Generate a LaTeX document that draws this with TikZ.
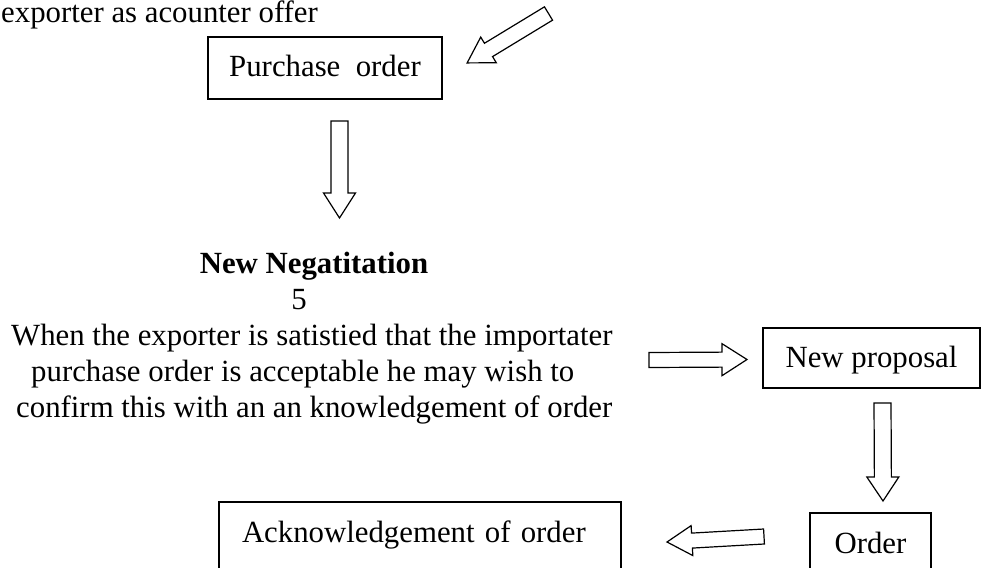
\documentclass[tikz,border=0pt]{standalone}
\usepackage{fontspec}
\setmainfont{Liberation Serif}
\usetikzlibrary{calc}
\tikzset{
  txt/.style={inner sep=0pt, font=\fontsize{30.8}{36}\selectfont},
  box/.style={draw, line width=1.2pt, font=\fontsize{30.8}{36}\selectfont,
    inner sep=0pt, text height=22pt, text depth=4pt},
  barrowsty/.style={draw, line width=1.2pt, fill=white, line join=miter},
}
\newcommand\blockarrow[5]{%
  \path let \p1=(#1), \p2=(#2),
    \n1={atan2(\y2-\y1,\x2-\x1)}, \n2={veclen(\x2-\x1,\y2-\y1)} in
    \pgfextra{\xdef\baX{\x1}\xdef\baY{\y1}\xdef\baA{\n1}\xdef\baL{\n2}};
  \draw[barrowsty, shift={(\baX,\baY)}, rotate=\baA]
    (0,#3) -- (\baL-#5,#3) -- (\baL-#5,#4) -- (\baL,0) -- (\baL-#5,-#4)
    -- (\baL-#5,-#3) -- (0,-#3) -- cycle;
}
\begin{document}
\begin{tikzpicture}[x=1pt,y=1pt]
\useasboundingbox (0,0) rectangle (981,-567);
% texts
\node[txt, anchor=base west] (top) at (1,-23) {exporter as acounter offer};
\node[txt, font=\fontsize{30.8}{36}\selectfont\bfseries, anchor=base] (nn) at (314,-273) {New Negatitation};
\node[txt, anchor=base] (five) at (299,-309) {5};
\node[txt, anchor=base west] (l1) at (11,-345) {When the exporter is satistied that the importater};
\node[txt, anchor=base west] (l2) at (31,-381) {purchase order is acceptable he may wish to};
\node[txt, anchor=base west] (l3) at (16,-417) {confirm this with an an knowledgement of order};
% boxes
\node[box, minimum width=234pt, minimum height=62pt] (po) at (325,-68) {Purchase\ \ order};
\node[box, minimum width=217pt, minimum height=60pt] (np) at (871.5,-358) {New proposal};
\node[box, minimum width=121pt, minimum height=62pt] (ord) at (870.5,-544) {Order};
\node[box, text depth=10pt, minimum height=68pt, text width=356pt, inner xsep=23pt, align=left] (ack) at (420,-536) {Acknowledgement of order};
% arrows
\coordinate (a1s) at (548.5,-13.5); \coordinate (a1e) at (467,-63);
\coordinate (a2s) at (339.5,-121);  \coordinate (a2e) at (339.5,-218);
\coordinate (a3s) at (649,-360);    \coordinate (a3e) at (747,-359.5);
\coordinate (a4s) at (882.5,-403);  \coordinate (a4e) at (883,-501);
\coordinate (a5s) at (764,-536.5);  \coordinate (a5e) at (667,-542);
\blockarrow{a1s}{a1e}{7.8}{15}{25}
\blockarrow{a2s}{a2e}{8.5}{16}{25}
\blockarrow{a3s}{a3e}{7.5}{16}{25}
\blockarrow{a4s}{a4e}{8.5}{16}{24}
\blockarrow{a5s}{a5e}{7.5}{15}{25}
\end{tikzpicture}
\end{document}
